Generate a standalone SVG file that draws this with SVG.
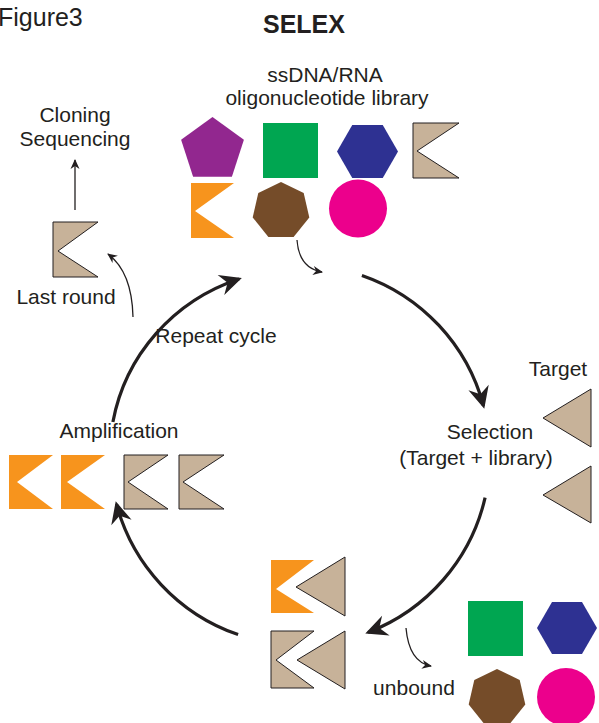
<svg xmlns="http://www.w3.org/2000/svg" width="599" height="723" viewBox="0 0 599 723">
<style>
text{font-family:"Liberation Sans",Arial,sans-serif;fill:#231F20;font-size:21px}
.c{text-anchor:middle}
.tan{fill:#C7B299;stroke:#231F20;stroke-width:1;stroke-linejoin:miter}
.org{fill:#F7941D}
.pur{fill:#92278F}
.grn{fill:#00A651}
.blu{fill:#2E3192}
.brn{fill:#754C29}
.pnk{fill:#EC008C}
.big{fill:none;stroke:#231F20;stroke-width:3.2;marker-end:url(#bigHead)}
.thin{fill:none;stroke:#231F20;stroke-width:1.3;marker-end:url(#smallHead)}
</style>
<defs>
<marker id="bigHead" markerUnits="userSpaceOnUse" viewBox="-24 -12 26 24" markerWidth="26" markerHeight="24" refX="-3" refY="0" orient="auto">
<path d="M0,0 L-22,-10.5 L-15,0 L-22,10.5 Z" fill="#231F20"/>
</marker>
<marker id="smallHead" markerUnits="userSpaceOnUse" viewBox="-12 -6 14 12" markerWidth="14" markerHeight="12" refX="-1" refY="0" orient="auto">
<path d="M0,0 L-10,-4.5 L-7,0 L-10,4.5 Z" fill="#231F20"/>
</marker>
</defs>

<text x="-2" y="26" style="font-size:25px">Figure3</text>
<text x="304" y="33" class="c" style="font-size:25px;font-weight:bold">SELEX</text>

<g id="library">
<text x="325" y="82" class="c">ssDNA/RNA</text>
<text x="327" y="105" class="c">oligonucleotide library</text>
<polygon class="pur" points="212.5,117 243.9,139.8 231.9,176.7 193.1,176.7 181.1,139.8"/>
<rect class="grn" x="263" y="123" width="55" height="55"/>
<polygon class="blu" points="398,151.5 382.75,177.9 352.25,177.9 337,151.5 352.25,125.1 382.75,125.1"/>
<path class="tan" d="M413,123 H459 L417,151 L459,178 H413 Z"/>
<path class="org" d="M191,183 H234 L195,211 L234,238 H191 Z"/>
<polygon class="brn" points="281,182 303.7,192.9 309.3,217.5 293.6,237.1 268.4,237.1 252.7,217.5 258.3,192.9"/>
<circle class="pnk" cx="358" cy="208.5" r="29"/>
</g>

<g id="cloning">
<text x="75" y="122" class="c">Cloning</text>
<text x="75" y="146" class="c">Sequencing</text>
</g>

<g id="last-round">
<path class="tan" d="M53,222 H98 L58,251 L98,277 H53 Z"/>
<text x="66" y="304" class="c">Last round</text>
</g>

<g id="repeat-cycle">
<text x="216" y="343" class="c">Repeat cycle</text>
</g>

<g id="target">
<text x="558" y="376" class="c">Target</text>
<polygon class="tan" points="543,418 591,389 591,447"/>
<polygon class="tan" points="543,495 591,466 591,523"/>
</g>

<g id="selection">
<text x="490" y="439" class="c">Selection</text>
<text x="476" y="465" class="c">(Target + library)</text>
</g>

<g id="amplification">
<text x="119" y="438" class="c">Amplification</text>
<path class="org" d="M9,455 H53 L17,482 L53,509 H9 Z"/>
<path class="org" d="M61,455 H105 L67,482 L105,509 H61 Z"/>
<path class="tan" d="M124,455 H168 L128,482 L168,509 H124 Z"/>
<path class="tan" d="M179,455 H224 L183,482 L224,509 H179 Z"/>
</g>

<g id="bound-complexes">
<path class="org" d="M271,560 H314 L276,589 L314,613 H271 Z"/>
<polygon class="tan" points="296,587 345,557 345,616"/>
<path class="tan" d="M271,631 H314 L276,660 L314,688 H271 Z"/>
<polygon class="tan" points="297,660 345,631 345,689"/>
</g>

<g id="unbound">
<text x="414" y="695" class="c">unbound</text>
<rect class="grn" x="468" y="601" width="55" height="55"/>
<polygon class="blu" points="597,628 582,654 552,654 537,628 552,602 582,602"/>
<polygon class="brn" points="497,669 519.7,679.9 525.3,704.5 509.6,724.1 484.4,724.1 468.7,704.5 474.3,679.9"/>
<circle class="pnk" cx="566" cy="697" r="29"/>
</g>

<g id="connectors">
<path class="big" d="M361.9,275.4 A190,190 0 0 1 483.5,405.8"/>
<path class="big" d="M485.1,497.7 A190,190 0 0 1 368.1,632.4"/>
<path class="big" d="M238.1,634.6 A190,190 0 0 1 116.5,504.2"/>
<path class="big" d="M112.9,422 A190,186 0 0 1 239,279"/>
<path class="thin" d="M297,240 Q299,268 322,272"/>
<path class="thin" d="M133,317 Q132,272 108,254"/>
<path class="thin" d="M406,628 Q409,662 431,666"/>
<path class="thin" d="M75,210 V160"/>
</g>
</svg>
